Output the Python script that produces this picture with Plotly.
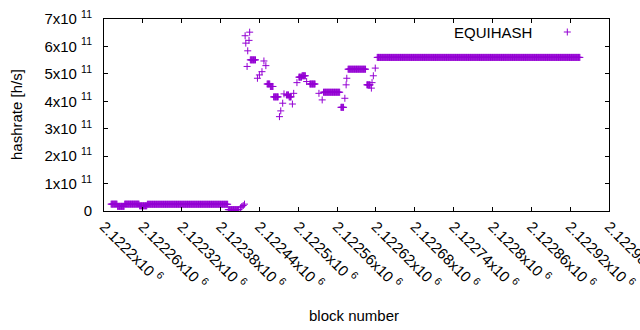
import plotly.graph_objects as go

# ---- data (hashrate in h/s, per block) ----
# runs of consecutive blocks that share the same value
seg_start = [2122211, 2122221, 2122232, 2122255, 2122267, 2122392,
             2122426, 2122452, 2122457, 2122462, 2122482, 2122486,
             2122501, 2122506, 2122518, 2122539, 2122566, 2122577,
             2122606, 2122622]
seg_end = [2122220, 2122231, 2122254, 2122266, 2122391, 2122408,
           2122434, 2122456, 2122461, 2122469, 2122485, 2122489,
           2122505, 2122511, 2122526, 2122564, 2122570, 2122604,
           2122611, 2122935]
seg_value = [0.25e11, 0.17e11, 0.25e11, 0.19e11, 0.245e11, 0.05e11,
             5.51e11, 4.63e11, 4.54e11, 4.16e11, 4.23e11, 4.16e11,
             4.88e11, 4.93e11, 4.63e11, 4.33e11, 3.78e11, 5.17e11,
             4.60e11, 5.60e11]

# isolated blocks
pt_block = [2122411, 2122413, 2122415, 2122417,
            2122418, 2122419, 2122421, 2122422, 2122424, 2122425,
            2122437, 2122440, 2122444, 2122447, 2122450,
            2122471, 2122473, 2122476, 2122478,
            2122491, 2122493, 2122498, 2122513,
            2122532, 2122537, 2122572, 2122574, 2122575,
            2122613, 2122614, 2122616, 2122619]
pt_value = [0.12e11, 0.16e11, 0.20e11, 0.25e11,
            6.39e11, 6.12e11, 5.27e11, 5.84e11, 6.22e11, 6.52e11,
            4.84e11, 4.96e11, 5.08e11, 5.47e11, 5.30e11,
            3.44e11, 3.65e11, 3.93e11, 4.27e11,
            3.90e11, 4.29e11, 4.68e11, 4.72e11,
            4.29e11, 4.05e11, 4.11e11, 4.60e11, 4.84e11,
            4.48e11, 4.68e11, 4.93e11, 5.21e11]

x_ticks = [2122200, 2122260, 2122320, 2122380, 2122440, 2122500, 2122560,
           2122620, 2122680, 2122740, 2122800, 2122860, 2122920, 2122980]
x_ticklabels = ["2.1222", "2.12226", "2.12232", "2.12238", "2.12244", "2.1225",
                "2.12256", "2.12262", "2.12268", "2.12274", "2.1228", "2.12286",
                "2.12292", "2.12298"]
y_ticks = [0, 1e11, 2e11, 3e11, 4e11, 5e11, 6e11, 7e11]
y_ticklabels = ["0", "1", "2", "3", "4", "5", "6", "7"]

series_name = "EQUIHASH"
x_title = "block number"
y_title = "hashrate [h/s]"

# ---- expand runs into per-block points ----
pairs = []
for s, e, v in zip(seg_start, seg_end, seg_value):
    for b in range(s, e + 1):
        pairs.append((b, v))
for b, v in zip(pt_block, pt_value):
    pairs.append((b, v))
pairs.sort()
blocks = [p[0] for p in pairs]
values = [p[1] for p in pairs]

COLOR = "#9400d3"
FONT = "Liberation Sans, Arial, sans-serif"
FS = 15

W, H = 640, 330
L, R, T, B = 104, 31, 19, 119
PW, PH = W - L - R, H - T - B


def px(x):
    return (x - L) / PW


def py(y):
    return (H - B - y) / PH


fig = go.Figure()
fig.add_trace(go.Scatter(
    x=blocks, y=values, mode="markers", name=series_name,
    marker=dict(symbol="cross-thin-open", size=5, color=COLOR,
                line=dict(color=COLOR, width=1)),
    showlegend=False, hoverinfo="skip",
))

axis_common = dict(
    showline=True, linecolor="black", linewidth=1, mirror="ticks",
    ticks="inside", ticklen=4, tickcolor="black", tickwidth=1,
    showgrid=False, zeroline=False, automargin=False,
    ticklabeloverflow="allow",
    tickfont=dict(family=FONT, size=FS, color="black"),
)

fig.update_layout(
    width=W, height=H,
    margin=dict(l=L, r=R, t=T, b=B, pad=0),
    paper_bgcolor="white", plot_bgcolor="white",
    font=dict(family=FONT, size=FS, color="black"),
    xaxis=dict(range=[x_ticks[0], x_ticks[-1]], tickmode="array",
               tickvals=x_ticks,
               ticktext=[t + "x10 <sup>6</sup>" for t in x_ticklabels],
               tickangle=45, **axis_common),
    yaxis=dict(range=[y_ticks[0], y_ticks[-1]], tickmode="array",
               tickvals=y_ticks,
               ticktext=[t if t == "0" else t + "x10 <sup>11</sup>" for t in y_ticklabels],
               ticklabelstandoff=8, **axis_common),
    annotations=[
        dict(text=y_title, xref="paper", yref="paper", x=px(16), y=py(115),
             textangle=-90, showarrow=False, xanchor="center", yanchor="middle",
             font=dict(family=FONT, size=FS, color="black")),
        dict(text=x_title, xref="paper", yref="paper", x=px(354), y=py(315),
             showarrow=False, xanchor="center", yanchor="middle",
             font=dict(family=FONT, size=FS, color="black")),
        dict(text=series_name, xref="paper", yref="paper", x=px(534), y=py(32),
             showarrow=False, xanchor="right", yanchor="middle",
             font=dict(family=FONT, size=FS, color="black")),
    ],
    shapes=[
        dict(type="line", xref="paper", yref="paper",
             x0=px(563.8), x1=px(570.8), y0=py(32), y1=py(32),
             line=dict(color=COLOR, width=1)),
        dict(type="line", xref="paper", yref="paper",
             x0=px(567.3), x1=px(567.3), y0=py(28.5), y1=py(35.5),
             line=dict(color=COLOR, width=1)),
    ],
)

fig.write_html("out.html",
               config={"displayModeBar": False},
               post_script="document.body.style.margin='0px';document.body.style.padding='0px';")
